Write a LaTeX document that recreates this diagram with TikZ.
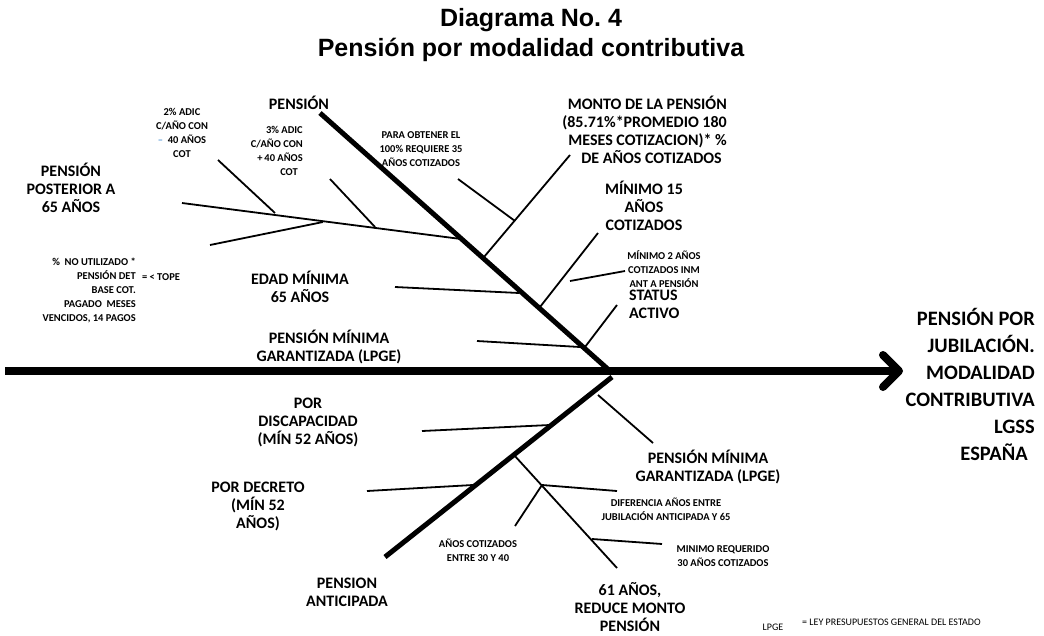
\documentclass[tikz,border=0pt]{standalone}
\usepackage{fontspec}
\setmainfont{Carlito}
\newfontfamily\titlefont{Liberation Sans}
\usetikzlibrary{arrows.meta}
\definecolor{dashblue}{RGB}{91,155,213}

\begin{document}
\begin{tikzpicture}[
  x=1pt, y=-1pt,
  spine/.style={line width=8pt, -{Straight Barb[length=16pt, width=32pt, round]}},
  bone/.style={line width=5pt},
  rib/.style={line width=1.8pt},
  big/.style={font=\bfseries\fontsize{16}{18}\selectfont, align=center, inner sep=0pt},
  small/.style={font=\bfseries\fontsize{10.5}{14}\selectfont, align=center, inner sep=0pt},
  note/.style={font=\fontsize{10}{12}\selectfont, inner sep=0pt},
]
\useasboundingbox (0,0) rectangle (1044,635);

% Title
\node[font=\titlefont\bfseries\fontsize{25}{30}\selectfont, align=center] (title) at (531,35) {Diagrama No.\ 4\\Pensión por modalidad contributiva};

% Nodes
\node[font=\bfseries\fontsize{20.5}{27}\selectfont, align=right, inner sep=0pt, anchor=east] (result) at (1035,384)
  {PENSIÓN POR\\JUBILACIÓN.\\MODALIDAD\\CONTRIBUTIVA\\LGSS\hspace*{13pt}\\ESPAÑA\hspace*{7pt}};

\node[big] (pension) at (299,103) {PENSIÓN};
\node[small] (adic2) at (182,133) {2\% ADIC\\C/AÑO CON\\{\color{dashblue}–}\ \ 40 AÑOS\\COT};
\node[small, align=right, anchor=east] (adic3) at (303,151) {3\% ADIC\\C/AÑO CON\\+\,40 AÑOS\\COT\hspace*{5pt}};
\node[big] (posterior) at (71,188) {PENSIÓN\\POSTERIOR A\\65 AÑOS};
\node[small, align=right, anchor=east] (noutil) at (136,290)
  {\%\ \ NO UTILIZADO *\\PENSIÓN DET\hspace*{48pt}\\BASE COT.\hspace*{8pt}\\PAGADO\ \ MESES\hspace*{3pt}\\VENCIDOS, 14 PAGOS};
\node[small] (tope) at (161,277) {= < TOPE};
\node[big] (edad) at (300,287) {EDAD MÍNIMA\\65 AÑOS};
\node[big] (pmgup) at (329,347) {PENSIÓN MÍNIMA\\GARANTIZADA (LPGE)};
\node[small] (cien) at (421,149) {PARA OBTENER EL\\100\% REQUIERE 35\\AÑOS COTIZADOS};
\node[big, align=right, anchor=east] (monto) at (727,130)
  {MONTO DE LA PENSIÓN\\(85.71\%*PROMEDIO 180\\MESES COTIZACION)* \%\\DE AÑOS COTIZADOS\hspace*{5pt}};
\node[big] (min15) at (644,206) {MÍNIMO 15\\AÑOS\\COTIZADOS};
\node[small] (min2) at (664,269) {MÍNIMO 2 AÑOS\\COTIZADOS INM\\ANT A PENSIÓN};
\node[big, align=left, anchor=west] (status) at (629,304) {STATUS\\ACTIVO};

\node[big] (discap) at (308,422) {POR\\DISCAPACIDAD\\(MÍN 52 AÑOS)};
\node[big] (decreto) at (258,506) {POR DECRETO\\(MÍN 52\\AÑOS)};
\node[big] (anticip) at (347,592) {PENSION\\ANTICIPADA};
\node[small] (entre) at (478,550) {AÑOS COTIZADOS\\ENTRE 30 Y 40};
\node[big] (pmglow) at (708,467) {PENSIÓN MÍNIMA\\GARANTIZADA (LPGE)};
\node[small] (difer) at (666,509) {DIFERENCIA AÑOS ENTRE\\JUBILACIÓN ANTICIPADA Y 65};
\node[small] (minreq) at (723,556) {MINIMO REQUERIDO\\30 AÑOS COTIZADOS};
\node[big] (reduce) at (630,607) {61 AÑOS,\\REDUCE MONTO\\PENSIÓN};

\node[note] (lpge) at (773,627) {LPGE};
\node[note, anchor=west] (ley) at (802,622) {= LEY PRESUPUESTOS GENERAL DEL ESTADO};

% Points
\coordinate (tail) at (5,371);
\coordinate (head) at (903,371);
\coordinate (joint) at (610,371);
\coordinate (utop) at (320,113);
\coordinate (ljoint) at (612,377);
\coordinate (lbot) at (385,557);

\coordinate (montoroot) at (484,257);  \coordinate (montotip) at (570,155);
\coordinate (cienstart) at (458,179);  \coordinate (cienend) at (515,221);
\coordinate (min15root) at (540,307);  \coordinate (min15tip) at (598,233);
\coordinate (min2start) at (570,281);  \coordinate (min2end) at (625,271);
\coordinate (statroot) at (585,347);   \coordinate (stattip) at (617,305);
\coordinate (edadstart) at (395,287);  \coordinate (edadend) at (519,293);
\coordinate (pmgstart) at (477,341);   \coordinate (pmgend) at (580,347);
\coordinate (poststart) at (182,203);  \coordinate (postend) at (461,239);
\coordinate (lowstart) at (210,245);   \coordinate (lowend) at (323,222);
\coordinate (a2start) at (218,160);    \coordinate (a2end) at (275,213);
\coordinate (a3start) at (330,179);    \coordinate (a3end) at (375,227);

\coordinate (discstart) at (422,431);  \coordinate (discend) at (550,425);
\coordinate (decrstart) at (367,491);  \coordinate (decrend) at (473,485);
\coordinate (pmglstart) at (598,395);  \coordinate (pmglend) at (653,443);
\coordinate (redroot) at (514,455);    \coordinate (redtip) at (617,568);
\coordinate (fork) at (542,485);
\coordinate (difend) at (617,491);
\coordinate (entend) at (515,526);
\coordinate (reqstart) at (592,539);   \coordinate (reqend) at (662,544);

% Arrows
\draw[spine] (tail) -- (head);
\draw[bone] (utop) -- (joint);
\draw[bone] (ljoint) -- (lbot);

\draw[rib] (montoroot) -- (montotip);
\draw[rib] (cienstart) -- (cienend);
\draw[rib] (min15root) -- (min15tip);
\draw[rib] (min2start) -- (min2end);
\draw[rib] (statroot) -- (stattip);
\draw[rib] (edadstart) -- (edadend);
\draw[rib] (pmgstart) -- (pmgend);
\draw[rib] (poststart) -- (postend);
\draw[rib] (lowstart) -- (lowend);
\draw[rib] (a2start) -- (a2end);
\draw[rib] (a3start) -- (a3end);

\draw[rib] (discstart) -- (discend);
\draw[rib] (decrstart) -- (decrend);
\draw[rib] (pmglstart) -- (pmglend);
\draw[rib] (redroot) -- (redtip);
\draw[rib] (fork) -- (difend);
\draw[rib] (fork) -- (entend);
\draw[rib] (reqstart) -- (reqend);

\end{tikzpicture}
\end{document}
